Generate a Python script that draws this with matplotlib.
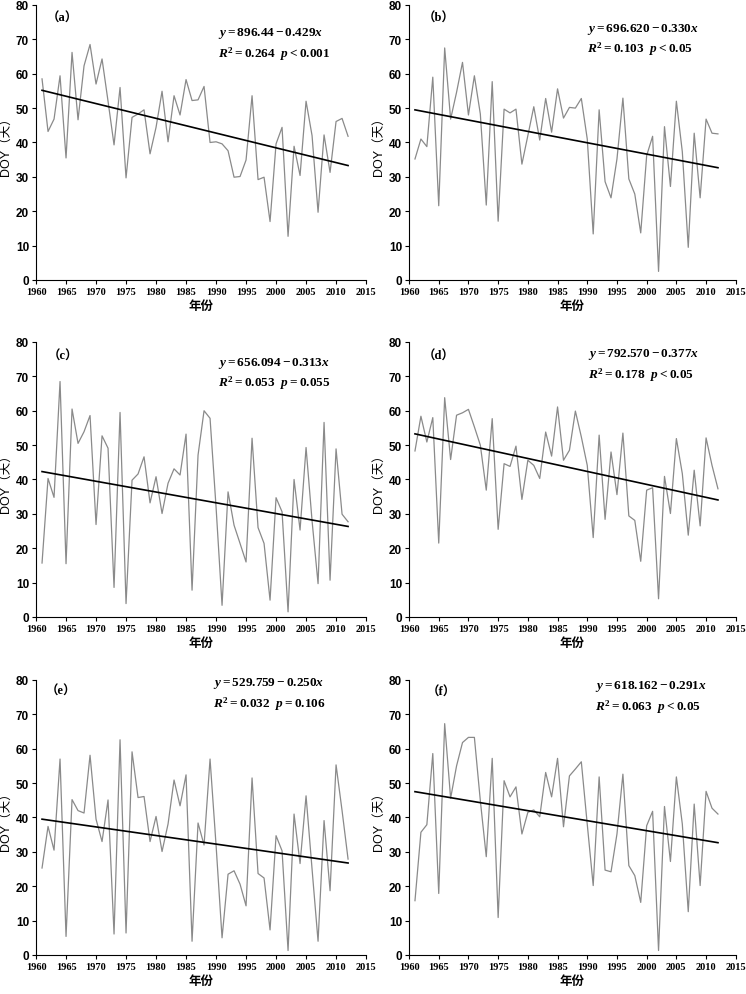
import numpy as np
import matplotlib
matplotlib.use("Agg")
import matplotlib.pyplot as plt

plt.rcParams['mathtext.fontset'] = 'custom'
plt.rcParams['mathtext.rm'] = 'Liberation Serif:bold'
plt.rcParams['mathtext.it'] = 'Liberation Serif:italic:bold'
plt.rcParams['mathtext.bf'] = 'Liberation Serif:bold'

years = np.arange(1961, 2013)

# DOY series for each panel
doy_a = [58.5, 43.2, 46.8, 59.4, 35.5, 66.2, 46.6, 62.3, 68.5, 57.0,
         64.3, 52.0, 39.3, 56.0, 29.7, 47.3, 48.3, 49.5, 36.7, 44.4,
         54.9, 40.2, 53.6, 48.0, 58.3, 52.2, 52.4, 56.3, 40.0, 40.2,
         39.6, 37.6, 29.9, 30.1, 34.9, 53.6, 29.2, 29.9, 17.0, 39.6,
         44.4, 12.7, 38.9, 30.4, 52.0, 42.0, 19.7, 42.2, 31.3, 46.1,
         47.0, 41.8]
doy_b = [35.2, 41.0, 38.8, 59.0, 21.6, 67.5, 46.8, 54.6, 63.3, 48.0,
         59.4, 48.3, 21.8, 57.7, 17.1, 49.7, 48.6, 49.7, 33.7, 42.0,
         50.4, 40.7, 52.8, 43.0, 55.6, 47.1, 50.2, 50.0, 52.8, 41.0,
         13.4, 49.5, 28.6, 23.9, 35.2, 52.9, 29.4, 25.0, 13.7, 36.2,
         41.8, 2.5, 44.6, 27.2, 52.0, 37.3, 9.5, 42.7, 23.9, 46.8,
         42.7, 42.5]
doy_c = [15.7, 40.3, 34.8, 68.5, 15.5, 60.5, 50.5, 53.9, 58.6, 26.9,
         52.7, 49.1, 8.6, 59.5, 3.9, 39.8, 41.6, 46.6, 33.2, 40.8,
         30.1, 38.9, 43.1, 41.3, 53.2, 7.8, 47.1, 60.0, 57.8, 32.0,
         3.4, 36.4, 26.7, 21.4, 16.0, 52.0, 26.0, 21.4, 4.9, 34.7,
         30.6, 1.5, 40.0, 25.3, 49.3, 28.0, 9.7, 56.6, 10.7, 48.9,
         29.9, 27.7]
doy_d = [48.3, 58.4, 50.9, 58.0, 21.5, 63.8, 45.8, 58.7, 59.4, 60.4,
         55.3, 50.0, 36.9, 57.7, 25.5, 44.6, 43.8, 49.7, 34.2, 45.6,
         44.1, 40.3, 53.8, 46.8, 61.1, 45.6, 48.5, 59.9, 52.4, 44.1,
         23.1, 52.9, 28.4, 48.0, 35.6, 53.5, 29.4, 28.1, 16.2, 36.9,
         37.6, 5.3, 40.9, 30.1, 51.9, 41.7, 23.8, 42.7, 26.5, 52.1,
         44.1, 37.3]
doy_e = [25.3, 37.4, 30.5, 57.0, 5.4, 45.2, 42.0, 41.3, 58.1, 39.5,
         33.0, 45.1, 6.1, 62.6, 6.4, 59.1, 45.8, 46.1, 33.0, 40.3,
         30.1, 38.1, 50.9, 43.4, 52.4, 4.0, 38.4, 32.0, 57.0, 32.0,
         5.0, 23.5, 24.5, 20.6, 14.3, 51.5, 23.7, 22.4, 7.3, 34.7,
         30.3, 1.3, 41.0, 26.6, 46.3, 25.0, 4.0, 39.1, 18.7, 55.3,
         42.0, 27.9]
doy_f = [15.8, 35.7, 37.9, 58.6, 17.9, 67.3, 45.6, 55.0, 61.8, 63.3,
         63.3, 44.9, 28.6, 57.2, 10.9, 50.7, 46.0, 48.9, 35.2, 41.5,
         42.2, 40.2, 53.1, 46.0, 57.2, 37.3, 52.1, 54.1, 56.2, 38.0,
         20.2, 51.8, 24.7, 24.2, 35.2, 52.6, 26.0, 23.1, 15.3, 37.6,
         41.8, 1.3, 43.2, 27.2, 51.8, 38.1, 12.6, 43.9, 20.2, 47.6,
         42.7, 41.0]

series = [doy_a, doy_b, doy_c, doy_d, doy_e, doy_f]
labels = ['（a）', '（b）', '（c）', '（d）', '（e）', '（f）']
intercepts = [896.44, 696.620, 656.094, 792.570, 529.759, 618.162]
slopes = [-0.429, -0.330, -0.313, -0.377, -0.250, -0.291]
eq_text = ['896.44', '696.620', '656.094', '792.570', '529.759', '618.162']
slope_text = ['0.429', '0.330', '0.313', '0.377', '0.250', '0.291']
r2_text = ['0.264', '0.103', '0.053', '0.178', '0.032', '0.063']
p_text = ['<0.001', '<0.05', '=0.055', '<0.05', '=0.106', '<0.05']

# layout in figure fractions
lefts = [0.0483, 0.5483]
widths = [0.4424, 0.438]
bottoms = [0.7176, 0.3789, 0.0392]
height = 0.2764
label_pos = [(0.033, 0.953), (0.043, 0.955), (0.036, 0.95),
             (0.043, 0.95), (0.03, 0.96), (0.054, 0.956)]
eq_pos = [(0.55, 0.90), (0.544, 0.916), (0.55, 0.927),
          (0.547, 0.957), (0.537, 0.99), (0.569, 0.98)]
eq_gap = 0.075

fig = plt.figure(figsize=(7.46, 9.95), dpi=100)

for i in range(6):
    row, col = i // 2, i % 2
    ax = fig.add_axes([lefts[col], bottoms[row], widths[col], height])
    ax.plot(years, series[i], color='#8a8a8a', lw=0.9)
    trend = intercepts[i] + slopes[i] * years
    ax.plot(years, trend, color='black', lw=1.2)

    ax.set_xlim(1960, 2015)
    ax.set_ylim(0, 80)
    ax.set_xticks(np.arange(1960, 2016, 5))
    ax.set_yticks(np.arange(0, 81, 10))
    ax.spines['top'].set_visible(False)
    ax.spines['right'].set_visible(False)
    ax.tick_params(direction='out', length=3, width=0.8, pad=2)
    for t in ax.get_xticklabels():
        t.set_fontfamily('Liberation Serif')
        t.set_fontweight('bold')
        t.set_fontsize(7.5)
    for t in ax.get_yticklabels():
        t.set_fontfamily('Liberation Sans')
        t.set_fontweight('bold')
        t.set_fontsize(8.5)

    ax.set_ylabel('DOY（天）', family=['Liberation Sans', 'Noto Sans CJK SC'],
                  fontsize=9, labelpad=3)
    ax.set_xlabel('年份', family=['Noto Sans CJK SC'], fontweight='bold',
                  fontsize=9, labelpad=2)

    ax.text(label_pos[i][0], label_pos[i][1], labels[i], transform=ax.transAxes,
            family=['Liberation Serif', 'Noto Sans CJK SC'], fontweight='bold',
            fontsize=9, ha='left', va='center')
    ex, ey = eq_pos[i]
    ax.text(ex, ey, '$y=' + eq_text[i] + '-' + slope_text[i] + 'x$',
            transform=ax.transAxes, fontsize=9.5, ha='left', va='center')
    ax.text(ex, ey - eq_gap,
            '$R^2=' + r2_text[i] + '\\ \\ p' + p_text[i] + '$',
            transform=ax.transAxes, fontsize=9.5, ha='left', va='center')

fig.savefig('out.png', dpi=100)
